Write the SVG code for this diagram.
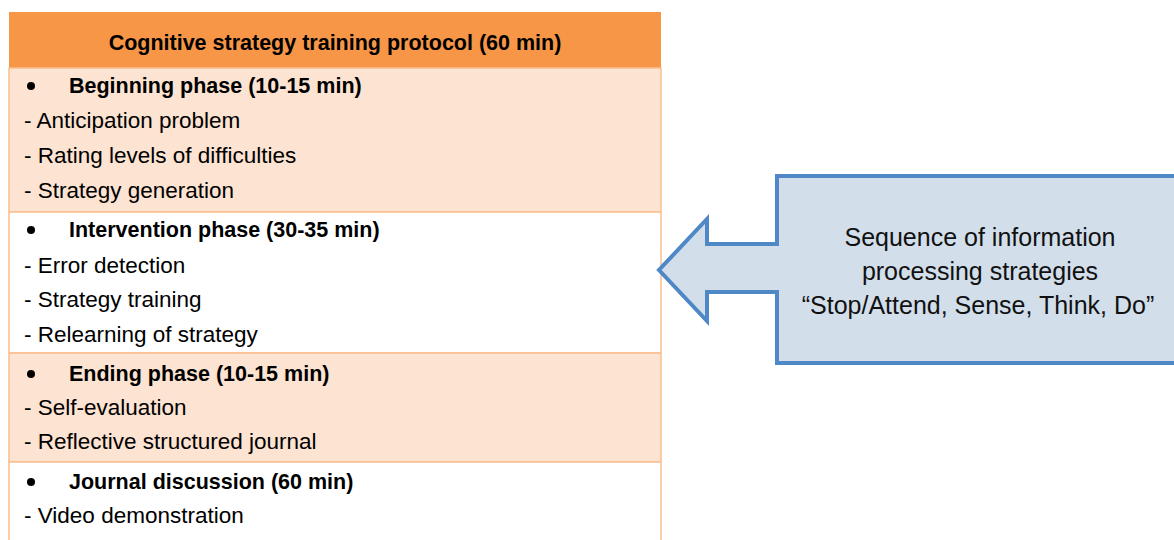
<svg xmlns="http://www.w3.org/2000/svg" width="1174" height="540" viewBox="0 0 1174 540">
<style>
.t{font-family:"Liberation Sans",Arial,sans-serif;font-size:22.5px;fill:#000}
.b{font-weight:bold;font-size:21.5px}
.peach{fill:#FDE3D1;stroke:#F9BF90;stroke-width:1.5}
.white{fill:#FFFFFF;stroke:#F9BF90;stroke-width:1.5}
.c{font-family:"Liberation Sans",Arial,sans-serif;font-size:25px;fill:#111;text-anchor:middle}
</style>
<rect width="1174" height="540" fill="#fff"/>
<g id="header">
<rect x="9" y="12" width="652" height="56" fill="#F79646"/>
<text class="t b" x="335" y="50" text-anchor="middle">Cognitive strategy training protocol (60 min)</text>
</g>
<g id="beginning">
<rect class="peach" x="9" y="68" width="652" height="144"/>
<circle cx="31" cy="86" r="4"/>
<text class="t b" x="69" y="93">Beginning phase (10-15 min)</text>
<text class="t" x="24" y="128">- Anticipation problem</text>
<text class="t" x="24" y="163">- Rating levels of difficulties</text>
<text class="t" x="24" y="198">- Strategy generation</text>
</g>
<g id="intervention">
<rect class="white" x="9" y="212" width="652" height="141"/>
<circle cx="31" cy="230" r="4"/>
<text class="t b" x="69" y="237">Intervention phase (30-35 min)</text>
<text class="t" x="24" y="273">- Error detection</text>
<text class="t" x="24" y="307">- Strategy training</text>
<text class="t" x="24" y="342">- Relearning of strategy</text>
</g>
<g id="ending">
<rect class="peach" x="9" y="353" width="652" height="109"/>
<circle cx="31" cy="374" r="4"/>
<text class="t b" x="69" y="381">Ending phase (10-15 min)</text>
<text class="t" x="24" y="415">- Self-evaluation</text>
<text class="t" x="24" y="449">- Reflective structured journal</text>
</g>
<g id="journal">
<rect class="white" x="9" y="462" width="652" height="90"/>
<circle cx="31" cy="482" r="4"/>
<text class="t b" x="69" y="489">Journal discussion (60 min)</text>
<text class="t" x="24" y="523">- Video demonstration</text>
</g>
<g id="callout">
<path d="M1180,176 L777,176 L777,244 L707,244 L707,219 L659,270 L707,321 L707,292 L777,292 L777,363 L1180,363" fill="#D2DFEB" stroke="#4F88C6" stroke-width="4" stroke-linejoin="miter"/>
<text class="c" x="980" y="246">Sequence of information</text>
<text class="c" x="980" y="280">processing strategies</text>
<text class="c" x="978" y="314">“Stop/Attend, Sense, Think, Do”</text>
</g>
</svg>
